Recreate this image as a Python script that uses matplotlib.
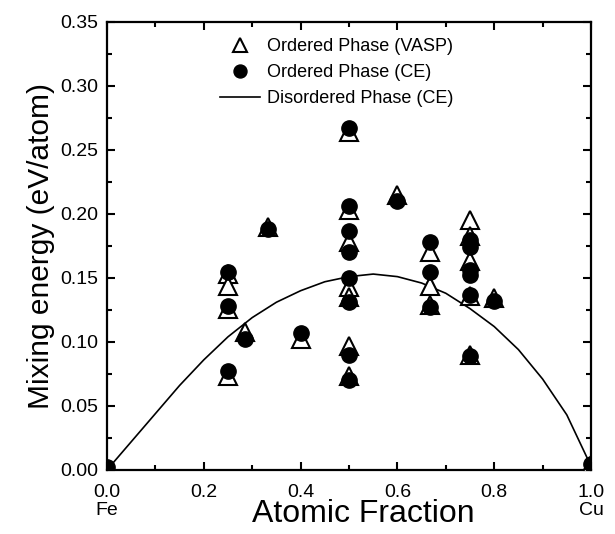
import matplotlib
matplotlib.use("Agg")
import matplotlib.pyplot as plt
from matplotlib.ticker import MultipleLocator

plt.rcParams['font.family'] = ['Liberation Sans', 'DejaVu Sans']

# ordered phase, VASP (open triangles)
vasp_x = [0.0, 0.25, 0.25, 0.25, 0.25, 0.2857, 0.3333, 0.4,
          0.5, 0.5, 0.5, 0.5, 0.5, 0.5, 0.5, 0.6,
          0.6667, 0.6667, 0.6667, 0.75, 0.75, 0.75, 0.75, 0.75, 0.8, 1.0]
vasp_y = [0.0, 0.153, 0.144, 0.126, 0.073, 0.108, 0.190, 0.102,
          0.264, 0.203, 0.178, 0.143, 0.135, 0.0965, 0.0735, 0.215,
          0.1705, 0.1437, 0.129, 0.195, 0.183, 0.163, 0.136, 0.090, 0.134, 0.004]

# ordered phase, cluster expansion (filled circles)
ce_x = [0.0, 0.25, 0.25, 0.25, 0.2857, 0.3333, 0.4,
        0.5, 0.5, 0.5, 0.5, 0.5, 0.5, 0.5, 0.5, 0.6,
        0.6667, 0.6667, 0.6667, 0.75, 0.75, 0.75, 0.75, 0.75, 0.75, 0.8, 1.0]
ce_y = [0.002, 0.155, 0.128, 0.077, 0.102, 0.188, 0.107,
        0.267, 0.206, 0.187, 0.1705, 0.150, 0.1315, 0.090, 0.070, 0.210,
        0.178, 0.155, 0.127, 0.180, 0.1745, 0.156, 0.152, 0.137, 0.089, 0.132, 0.005]

# disordered phase curve (CE)
dis_x = [0.0, 0.025, 0.05, 0.10, 0.15, 0.20, 0.25, 0.30, 0.35, 0.40, 0.45, 0.50,
         0.55, 0.60, 0.65, 0.70, 0.75, 0.80, 0.85, 0.90, 0.95, 0.975, 1.0]
dis_y = [0.0, 0.011, 0.022, 0.044, 0.066, 0.086, 0.104, 0.119, 0.131, 0.140, 0.147, 0.151,
         0.153, 0.151, 0.146, 0.138, 0.126, 0.112, 0.094, 0.071, 0.043, 0.023, 0.003]

xticks = [0.0, 0.2, 0.4, 0.6, 0.8, 1.0]
xticklabels = ["0.0\nFe", "0.2", "0.4", "0.6", "0.8", "1.0\nCu"]

fig = plt.figure(figsize=(6.15, 5.34), dpi=100)
ax = fig.add_axes([0.174, 0.120, 0.787, 0.839])

ax.plot(vasp_x, vasp_y, linestyle='none', marker='^', markersize=12.5,
        markerfacecolor='white', markeredgecolor='black', markeredgewidth=1.5,
        label='Ordered Phase (VASP)', zorder=3)
ax.plot(ce_x, ce_y, linestyle='none', marker='o', markersize=11,
        color='black', label='Ordered Phase (CE)', zorder=4)
ax.plot(dis_x, dis_y, color='black', linewidth=1.2,
        label='Disordered Phase (CE)', zorder=2)

ax.set_xlim(0, 1.0)
ax.set_ylim(0, 0.35)
ax.set_xticks(xticks)
ax.set_xticklabels(xticklabels, linespacing=1.1)
ax.xaxis.set_minor_locator(MultipleLocator(0.1))
ax.yaxis.set_major_locator(MultipleLocator(0.05))
ax.yaxis.set_minor_locator(MultipleLocator(0.025))
ax.yaxis.set_major_formatter(plt.FormatStrFormatter('%.2f'))

ax.tick_params(which='both', direction='in', top=True, right=True, width=1.5)
ax.tick_params(which='major', length=6, labelsize=14)
ax.tick_params(which='minor', length=3.5)
ax.tick_params(axis='x', which='major', pad=10)
ax.tick_params(axis='y', which='major', pad=6)
for s in ax.spines.values():
    s.set_linewidth(1.6)

ax.set_xlabel("Atomic Fraction", fontsize=23)
ax.xaxis.set_label_coords(0.53, -0.066)
ax.set_ylabel("Mixing energy (eV/atom)", fontsize=21.5, labelpad=4)

ax.legend(loc='upper left', bbox_to_anchor=(0.2, 1.0), frameon=False,
          fontsize=13, handlelength=2.2, handletextpad=0.4,
          labelspacing=0.5, markerscale=0.85)

fig.savefig("out.png", dpi=100)
